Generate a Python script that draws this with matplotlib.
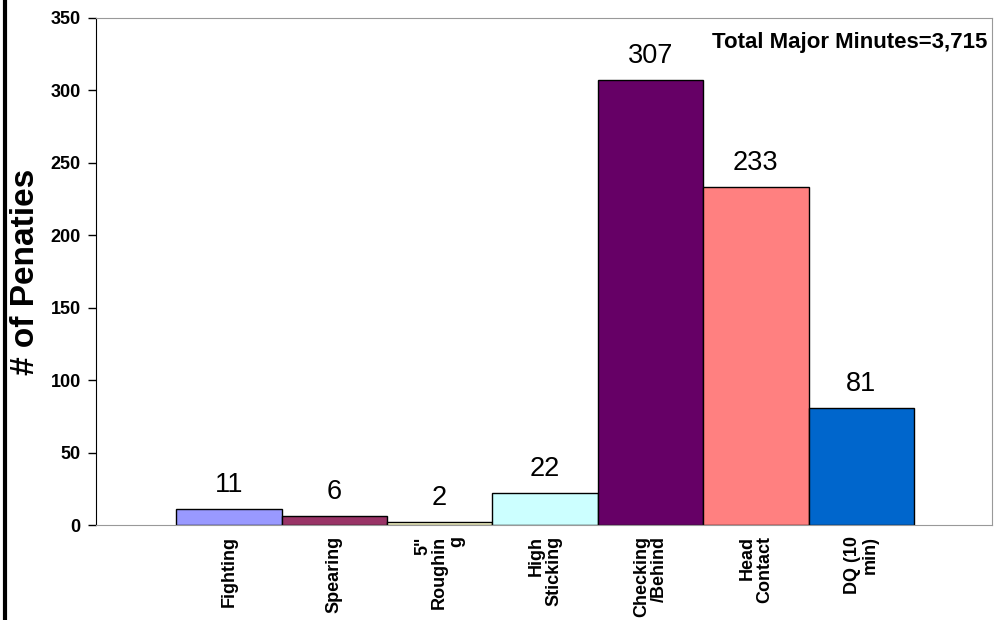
import matplotlib.pyplot as plt
from matplotlib.lines import Line2D

categories = ["Fighting", "Spearing", "5\"\nRoughin\ng", "High\nSticking",
              "Checking\n/Behind", "Head\nContact", "DQ (10\nmin)"]
values = [11, 6, 2, 22, 307, 233, 81]
colors = ["#9999FF", "#993366", "#FFFFCC", "#CCFFFF", "#660066", "#FF8080", "#0066CC"]
yticks = [0, 50, 100, 150, 200, 250, 300, 350]


def main():
    plt.rcParams["font.family"] = ["Liberation Sans", "DejaVu Sans"]
    fig = plt.figure(figsize=(9.97, 6.2), dpi=100)
    ax = fig.add_axes([96 / 997, 1 - 525 / 620, (992 - 96) / 997, (525 - 18) / 620])

    x = list(range(len(values)))
    ax.bar(x, values, width=1.0, color=colors, edgecolor="black", linewidth=1)
    for xi, v in zip(x, values):
        ax.annotate(str(v), (xi, v), xytext=(0, 8), textcoords="offset points",
                    ha="center", va="bottom", fontsize=19.5)

    ax.set_xlim(-1.26, 7.24)
    ax.set_ylim(0, 350)
    ax.set_yticks(yticks)
    ax.set_yticklabels([str(t) for t in yticks], fontsize=13, fontweight="bold")
    ax.tick_params(axis="y", direction="out", length=6, width=1, pad=5)
    ax.set_xticks(x)
    ax.set_xticklabels(categories, rotation=90, fontsize=13, fontweight="bold",
                       va="top", ha="center", multialignment="right",
                       linespacing=1.0)
    ax.tick_params(axis="x", length=0, pad=8)

    ax.spines["left"].set_color("black")
    for s in ["top", "right", "bottom"]:
        ax.spines[s].set_color("#999999")
    ax.set_ylabel("# of Penaties", fontsize=24, fontweight="bold", labelpad=7)

    ax.text(0.995, 0.952, "Total Major Minutes=3,715", transform=ax.transAxes,
            ha="right", va="center", fontsize=16, fontweight="bold")

    fig.add_artist(Line2D([0.005, 0.005], [0, 1], color="black", linewidth=3,
                          transform=fig.transFigure))

    fig.savefig("out.png", dpi=100)


if __name__ == "__main__":
    main()
